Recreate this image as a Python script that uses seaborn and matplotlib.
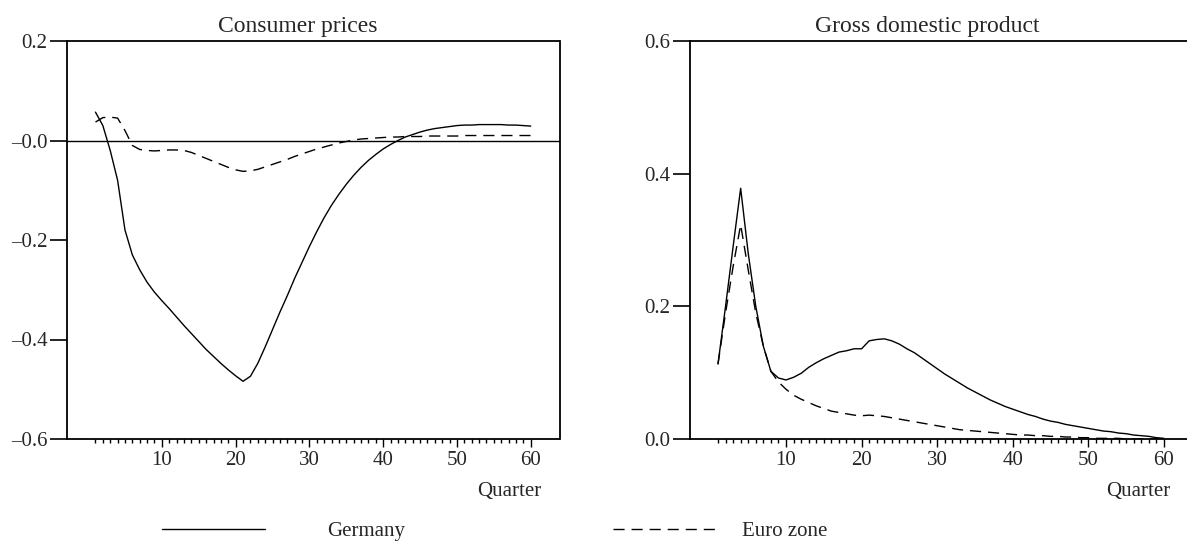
import matplotlib.pyplot as plt
import numpy as np
import pandas as pd
import seaborn as sns
from matplotlib.ticker import FixedLocator, FixedFormatter

quarters = list(range(1, 61))

cpi_germany = [0.057, 0.030, -0.020, -0.080, -0.180, -0.230, -0.260, -0.285, -0.305, -0.322,
               -0.338, -0.355, -0.372, -0.388, -0.404, -0.420, -0.434, -0.448, -0.461, -0.473,
               -0.484, -0.474, -0.448, -0.415, -0.380, -0.345, -0.312, -0.277, -0.245, -0.213,
               -0.183, -0.155, -0.130, -0.108, -0.088, -0.070, -0.054, -0.040, -0.028, -0.017,
               -0.008, 0.000, 0.007, 0.012, 0.017, 0.021, 0.024, 0.026, 0.028, 0.030,
               0.031, 0.031, 0.032, 0.032, 0.032, 0.032, 0.031, 0.031, 0.030, 0.029]
cpi_euro = [0.037, 0.046, 0.047, 0.045, 0.020, -0.010, -0.018, -0.020, -0.021, -0.020,
            -0.019, -0.019, -0.020, -0.024, -0.030, -0.036, -0.042, -0.048, -0.054, -0.059,
            -0.062, -0.061, -0.058, -0.053, -0.048, -0.043, -0.038, -0.032, -0.027, -0.022,
            -0.017, -0.013, -0.009, -0.005, -0.002, 0.001, 0.003, 0.004, 0.005, 0.006,
            0.007, 0.007, 0.008, 0.008, 0.008, 0.009, 0.009, 0.009, 0.009, 0.009,
            0.010, 0.010, 0.010, 0.010, 0.010, 0.010, 0.010, 0.010, 0.010, 0.010]
gdp_germany = [0.113, 0.200, 0.290, 0.378, 0.280, 0.200, 0.140, 0.102, 0.092, 0.089,
               0.093, 0.099, 0.108, 0.115, 0.121, 0.126, 0.131, 0.133, 0.136, 0.136,
               0.148, 0.150, 0.151, 0.148, 0.143, 0.136, 0.130, 0.122, 0.114, 0.106,
               0.098, 0.091, 0.084, 0.077, 0.071, 0.065, 0.059, 0.054, 0.049, 0.045,
               0.041, 0.037, 0.034, 0.030, 0.027, 0.025, 0.022, 0.020, 0.018, 0.016,
               0.014, 0.012, 0.011, 0.009, 0.008, 0.006, 0.005, 0.004, 0.002, 0.001]
gdp_euro = [0.113, 0.190, 0.260, 0.323, 0.255, 0.190, 0.140, 0.102, 0.086, 0.075,
            0.066, 0.060, 0.055, 0.050, 0.046, 0.042, 0.040, 0.038, 0.036, 0.035,
            0.036, 0.035, 0.034, 0.032, 0.030, 0.028, 0.026, 0.024, 0.022, 0.020,
            0.018, 0.016, 0.014, 0.013, 0.012, 0.011, 0.010, 0.009, 0.008, 0.007,
            0.006, 0.006, 0.005, 0.005, 0.004, 0.004, 0.003, 0.003, 0.002, 0.002,
            0.001, 0.001, 0.001, 0.001, 0.000, 0.000, 0.000, 0.000, 0.000, 0.000]

cpi_ticks = [0.2, 0.0, -0.2, -0.4, -0.6]
cpi_labels = ["0.2", "\u20130.0", "\u20130.2", "\u20130.4", "\u20130.6"]
gdp_ticks = [0.6, 0.4, 0.2, 0.0]
gdp_labels = ["0.6", "0.4", "0.2", "0.0"]
major_x = [10, 20, 30, 40, 50, 60]

sns.set_style("ticks")
plt.rcParams['font.family'] = ['Liberation Serif', 'DejaVu Serif']

df = pd.DataFrame({"quarter": quarters * 2,
                   "region": ["Germany"] * 60 + ["Euro zone"] * 60,
                   "cpi": cpi_germany + cpi_euro,
                   "gdp": gdp_germany + gdp_euro})

fig = plt.figure(figsize=(11.87, 5.43), dpi=100)
ax1 = fig.add_axes([67 / 1187, 1 - 439 / 543, 492.5 / 1187, 398 / 543])
ax2 = fig.add_axes([689.8 / 1187, 1 - 439 / 543, 497.2 / 1187, 398 / 543])

dashes = {"Germany": "", "Euro zone": (8, 5)}
for ax, col in [(ax1, "cpi"), (ax2, "gdp")]:
    sns.lineplot(data=df, x="quarter", y=col, hue="region", style="region",
                 palette=["black", "black"], dashes=dashes, linewidth=1.0,
                 legend=False, ax=ax)

ax1.axhline(0, color="black", linewidth=1.0)

ax1.set_xlim(-2.86, 63.9)
ax1.set_ylim(-0.6, 0.2)
ax2.set_xlim(-2.73, 63.06)
ax2.set_ylim(0.0, 0.6)

for ax, yt, yl in [(ax1, cpi_ticks, cpi_labels), (ax2, gdp_ticks, gdp_labels)]:
    ax.yaxis.set_major_locator(FixedLocator(yt))
    ax.yaxis.set_major_formatter(FixedFormatter(yl))
    ax.xaxis.set_major_locator(FixedLocator(major_x))
    ax.xaxis.set_minor_locator(FixedLocator(quarters))
    ax.tick_params(axis="y", which="major", direction="out", length=12.5, width=1.2,
                   pad=1.5, labelsize=15, color="black")
    ax.tick_params(axis="x", which="major", direction="out", length=5.8, width=1.0,
                   pad=2.5, labelsize=15, color="black")
    ax.tick_params(axis="x", which="minor", direction="out", length=3.0, width=1.0,
                   color="black")
    ax.set_ylabel("")
    ax.set_xlabel("Quarter", fontsize=15)
    for s in ax.spines.values():
        s.set_linewidth(1.3)
        s.set_color("black")

ax2.spines["right"].set_visible(False)
ax1.xaxis.set_label_coords(0.8975, -0.108)
ax2.xaxis.set_label_coords(0.901, -0.108)

fig.text(298 / 1187, 1 - 32 / 543, "Consumer prices", ha="center", va="baseline", fontsize=17)
fig.text(927 / 1187, 1 - 32 / 543, "Gross domestic product", ha="center", va="baseline", fontsize=17)

h_de = ax1.lines[0]
h_eu = ax1.lines[1]
fig.legend([h_de], ["Germany"], loc="center left", bbox_to_anchor=(162 / 1187, 1 - 531 / 543),
           frameon=False, borderpad=0, borderaxespad=0, handlelength=4.95,
           handletextpad=3.0, fontsize=15)
fig.legend([h_eu], ["Euro zone"], loc="center left", bbox_to_anchor=(613 / 1187, 1 - 531 / 543),
           frameon=False, borderpad=0, borderaxespad=0, handlelength=5.04,
           handletextpad=1.15, fontsize=15)

fig.savefig("out.png", dpi=100)
